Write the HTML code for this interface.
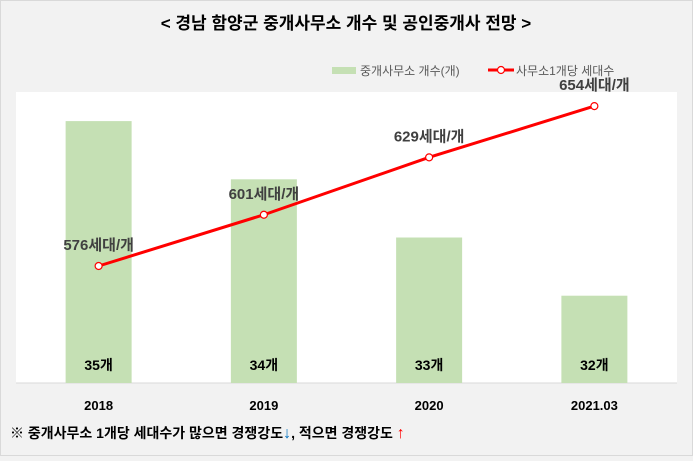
<!DOCTYPE html>
<html><head><meta charset="utf-8"><style>
body{margin:0;width:693px;height:456px;overflow:hidden;background:#f2f2f2;}
svg text{font-family:"Liberation Sans","Noto Sans CJK KR",sans-serif;}
</style></head><body>
<svg id="chart" width="693" height="456" xmlns="http://www.w3.org/2000/svg">
<rect x="0.5" y="0.5" width="692" height="455" fill="#f2f2f2" stroke="#d9d9d9"/>
<text x="346" y="29" text-anchor="middle" font-size="17" font-weight="bold" fill="#000">&lt; 경남 함양군 중개사무소 개수 및 공인중개사 전망 &gt;</text>
<rect x="16" y="92" width="661" height="291" fill="#fff"/>
<line x1="16" y1="383" x2="677" y2="383" stroke="#d9d9d9"/>
<g>
<rect x="332" y="67" width="24" height="7" fill="#c5e0b4"/>
<text x="360" y="75" font-size="12" fill="#595959">중개사무소 개수(개)</text>
<line x1="488" y1="70" x2="514" y2="70" stroke="#ff0000" stroke-width="3"/>
<circle cx="501" cy="70" r="3.5" fill="#fff" stroke="#ff0000" stroke-width="1.2"/>
<text x="516" y="75" font-size="12" fill="#595959">사무소1개당 세대수</text>
</g>
<g id="bars"></g><g id="line"></g><g id="labels"></g>
<text x="10" y="438" font-size="14" font-weight="bold" fill="#000">※ 중개사무소 1개당 세대수가 많으면 경쟁강도<tspan fill="#0070c0" font-size="16">↓</tspan>, 적으면 경쟁강도 <tspan fill="#ff0000" font-size="16">↑</tspan></text>
</svg>
<script>
const categories=["2018","2019","2020","2021.03"];
const officeCounts=[35,34,33,32];
const householdsPerOffice=[576,601,629,654];
const ns="http://www.w3.org/2000/svg";
const x0=16,step=165.25,base=383;
function xc(i){return x0+step*(i+0.5);}
function yBar(v){return base-(v-30.5)*58.2;}
function yLine(v){return 266-(v-576)*2.05;}
function mk(tag,attrs,parent){const e=document.createElementNS(ns,tag);for(const k in attrs)e.setAttribute(k,attrs[k]);document.getElementById(parent).appendChild(e);return e;}
categories.forEach((c,i)=>{
 const r=mk("rect",{x:xc(i)-33,y:yBar(officeCounts[i]),width:66,height:base-yBar(officeCounts[i]),fill:"#c5e0b4"},"bars");
 
 
 const t=mk("text",{x:xc(i),y:370,"text-anchor":"middle","font-size":"14","font-weight":"bold",fill:"#000"},"labels");
 t.textContent=officeCounts[i]+"개";
 
 
 const xl=mk("text",{x:xc(i),y:410,"text-anchor":"middle","font-size":"13","font-weight":"bold",fill:"#000"},"labels");
 xl.textContent=c;
 
 
});
const pts=householdsPerOffice.map((v,i)=>xc(i)+","+yLine(v)).join(" ");
const pl=mk("polyline",{points:pts,fill:"none",stroke:"#ff0000","stroke-width":"3"},"line");


householdsPerOffice.forEach((v,i)=>{
 const c=mk("circle",{cx:xc(i),cy:yLine(v),r:3.5,fill:"#fff",stroke:"#ff0000","stroke-width":"1.2"},"line");
 
 
 const t=mk("text",{x:xc(i),y:yLine(v)-16,"text-anchor":"middle","font-size":"15","font-weight":"bold",fill:"#404040"},"labels");
 t.textContent=v+"세대/개";
 
 
});
</script>
</body></html>
